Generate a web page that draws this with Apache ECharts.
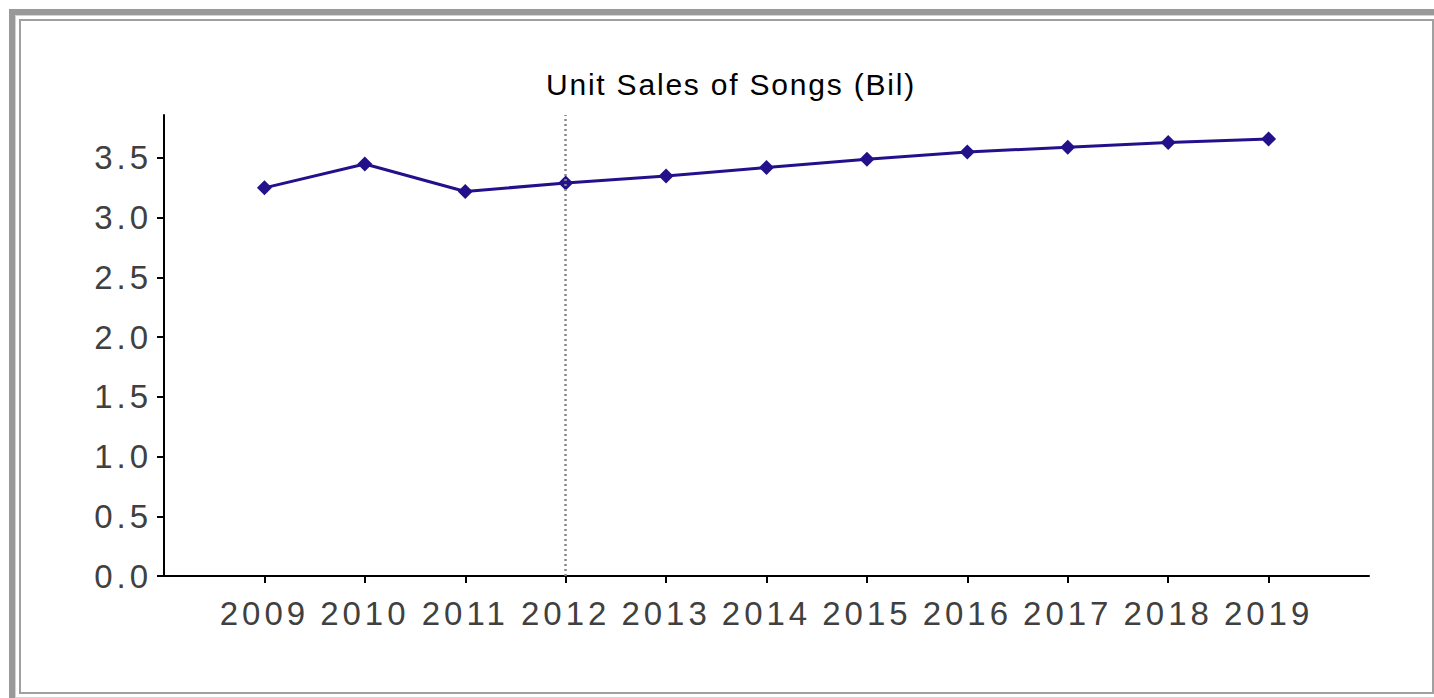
<!DOCTYPE html>
<html>
<head>
<meta charset="utf-8">
<script src="https://cdn.jsdelivr.net/npm/echarts@6/dist/echarts.min.js"></script>
<style>
  html, body { margin: 0; padding: 0; background: #fff; overflow: hidden; }
  #outer { position: absolute; left: 9px; top: 9px; width: 1500px; height: 800px;
           border-left: 6px solid #999; border-top: 6px solid #999; box-sizing: border-box; }
  #outer2 { position: absolute; left: 15px; top: 15px; width: 1500px; height: 800px;
            border-left: 1px solid #d4d4d4; border-top: 1px solid #d4d4d4; box-sizing: border-box; }
  #inner { position: absolute; left: 19px; top: 19px; width: 1415px; height: 675px;
           border: 2px solid #a0a0a0; box-sizing: border-box; }
  #bottomline { position: absolute; left: 15px; top: 697px; width: 1420px; height: 1px; background: #d4d4d4; }
  #chart { position: absolute; left: 0; top: 0; width: 1434px; height: 698px; }
  #chart svg text { letter-spacing: 4px; }
  #chart svg text.title-text { letter-spacing: 1.8px; }
</style>
</head>
<body>
<div id="outer"></div>
<div id="outer2"></div>
<div id="inner"></div>
<div id="bottomline"></div>
<div id="chart"></div>
<script>
const titleText = 'Unit Sales of Songs (Bil)';
const years = [2009, 2010, 2011, 2012, 2013, 2014, 2015, 2016, 2017, 2018, 2019];
const sales = [3.25, 3.45, 3.22, 3.29, 3.35, 3.42, 3.49, 3.55, 3.59, 3.63, 3.66];
const yTicks = [0, 0.5, 1.0, 1.5, 2.0, 2.5, 3.0, 3.5];
const markerYear = 2012;

const chart = echarts.init(document.getElementById('chart'), null, { renderer: 'svg' });
const fontFamily = '"Liberation Sans", Arial, sans-serif';
chart.setOption({
  animation: false,
  backgroundColor: 'transparent',
  title: {
    text: titleText,
    left: 726,
    textAlign: 'center',
    top: 64,
    textStyle: { fontFamily, fontSize: 30, fontWeight: 'normal', color: '#000' }
  },
  grid: { left: 164, right: 65, top: 115, bottom: 122, containLabel: false },
  xAxis: {
    type: 'value',
    min: 2008, max: 2020, interval: 1,
    splitLine: { show: false },
    axisLine: { show: true, lineStyle: { color: '#000', width: 2 } },
    axisTick: { show: true, length: 7, customValues: years, lineStyle: { color: '#000', width: 2 } },
    axisLabel: { customValues: years, margin: 21, fontFamily, fontSize: 33, color: '#404040',
                 formatter: v => String(v) }
  },
  yAxis: {
    type: 'value',
    min: 0, max: 3.86, interval: 0.5,
    splitLine: { show: false },
    axisLine: { show: true, lineStyle: { color: '#000', width: 2 } },
    axisTick: { show: true, length: 7, customValues: yTicks, lineStyle: { color: '#000', width: 2 } },
    axisLabel: { customValues: yTicks, margin: 12, fontFamily, fontSize: 33, color: '#404040',
                 formatter: v => v.toFixed(1) }
  },
  series: [{
    type: 'line',
    data: years.map((y, i) => [y, sales[i]]),
    symbol: 'diamond',
    symbolSize: 15,
    lineStyle: { color: '#23118c', width: 3 },
    itemStyle: { color: '#23118c' },
    markLine: {
      silent: true,
      symbol: 'none',
      label: { show: false },
      lineStyle: { color: '#888', type: [2, 3], width: 2.5 },
      data: [{ xAxis: markerYear }]
    },
    z: 3
  }]
});
function tagTitle() {
  document.querySelectorAll('#chart svg text').forEach(function (t) {
    if (t.textContent === titleText) t.classList.add('title-text');
  });
}
tagTitle();
setTimeout(tagTitle, 0);
</script>
</body>
</html>
